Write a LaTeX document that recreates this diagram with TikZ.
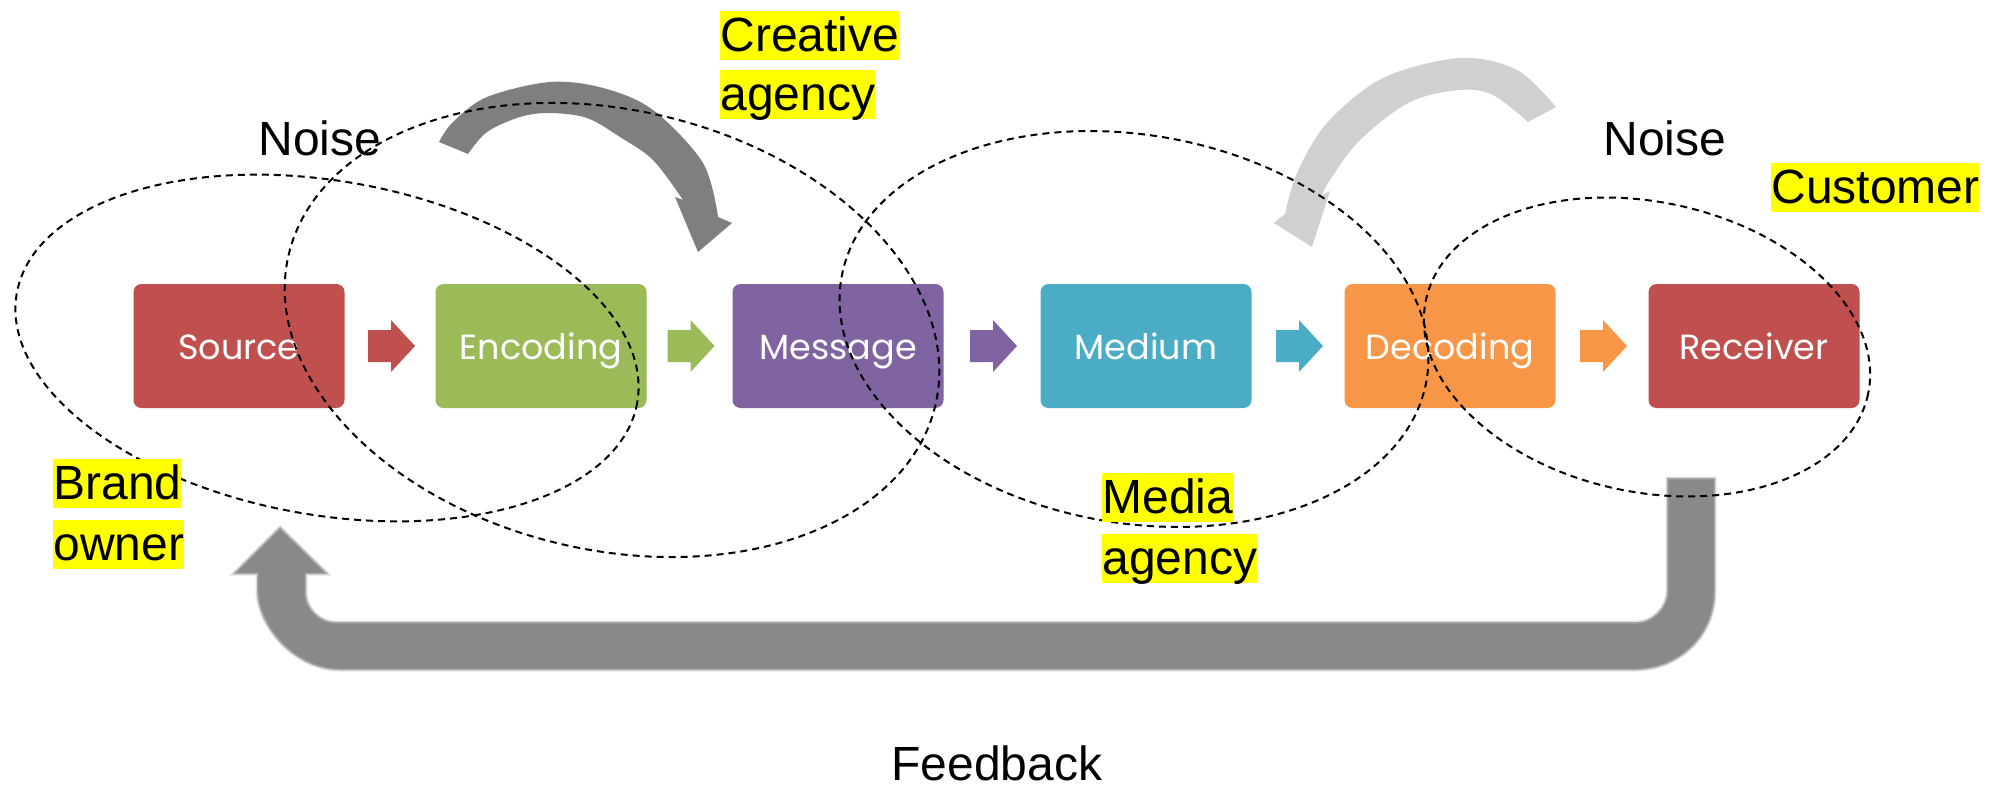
\documentclass[tikz,border=0pt]{standalone}
\usepackage{fontspec}
\setmainfont{Liberation Sans}
\newfontfamily\boxfont{Poppins}
\usetikzlibrary{calc}
\definecolor{srcred}{HTML}{C0504D}
\definecolor{encgreen}{HTML}{9BBB59}
\definecolor{msgpurple}{HTML}{8064A2}
\definecolor{medblue}{HTML}{4BACC6}
\definecolor{decorange}{HTML}{F79646}
\definecolor{darkarrow}{HTML}{7F7F7F}
\definecolor{lightarrow}{HTML}{D0D0D0}
\definecolor{feedgray}{HTML}{898989}
\definecolor{hilite}{HTML}{FFFF00}

\begin{document}
\begin{tikzpicture}[x=0.5pt, y=-0.5pt,
  stage/.style={fill=#1, rounded corners=4pt, minimum width=105.5pt,
    minimum height=62pt, inner sep=0pt, text=white,
    font=\boxfont\fontsize{17.5}{17.5}\selectfont, text height=13pt, text depth=0pt},
  zone/.style={draw=black, line width=1pt, dash pattern=on 3.5pt off 2.5pt},
  tag/.style={fill=hilite, inner sep=0pt, text height=20pt, text depth=4.5pt,
    anchor=base west, font=\fontsize{24}{24}\selectfont},
  caption/.style={anchor=base west, inner sep=0pt, font=\fontsize{24}{24}\selectfont}
]
\useasboundingbox (0,0) rectangle (1995,787);

% communication chain
\node[stage=srcred]    (src) at (239,346)  {Source};
\node[stage=encgreen]  (enc) at (541,346)  {Encoding};
\node[stage=msgpurple] (msg) at (838,346)  {Message};
\node[stage=medblue]   (med) at (1146,346) {Medium};
\node[stage=decorange] (dec) at (1450,346) {Decoding};
\node[stage=srcred]    (rec) at (1754,346) {Receiver};

% block arrows between the stages
\foreach \a/\b/\c in {src/enc/srcred, enc/msg/encgreen, msg/med/msgpurple,
                      med/dec/medblue, dec/rec/decorange}
  \fill[\c] ($(\a.east)!0.5!(\b.west)$) ++(-22,-16) -- ++(23,0) -- ++(0,-10)
    -- ++(24,26) -- ++(-24,26) -- ++(0,-10) -- ++(-23,0) -- cycle;

% feedback loop from receiver back to source
\coordinate (fbtop) at (1691,478);
\coordinate (fbtip) at (280,527);
\fill[feedgray, draw=feedgray!55, draw opacity=0.5, line width=1.5pt]
  (1715,478) -- (1715,592) .. controls (1715,636) and (1679,670) .. (1635,670)
  -- (340,670) .. controls (294,670) and (257,626) .. (257,590)
  -- (257,574) -- (233,574) -- (fbtip) -- (328,574) -- (306,574)
  -- (306,592) .. controls (306,608.5) and (319.5,622) .. (336,622)
  -- (1637,622) .. controls (1653.5,622) and (1667,605.5) .. (1667,592)
  -- (1667,478) -- cycle;

% curved arrow above encoding
\fill[darkarrow]
  plot[smooth, tension=0.55] coordinates {(439,142) (453,122) (487,97) (550,82)
    (603,88) (653,110) (703,163) (718,217)}
  -- (732,223) -- (698,252) -- (675,197) -- (683,200)
  -- plot[smooth, tension=0.55] coordinates {(683,200) (653,160) (620,137)
    (587,118) (550,113) (520,117) (487,132) (468,154)} -- cycle;

% curved arrow above decoding
\fill[lightarrow]
  plot[smooth, tension=0.55] coordinates {(1556,107) (1517,70) (1460,58)
    (1383,78) (1327,123) (1297,173) (1285,214)}
  -- (1274,223) -- (1312,247) -- (1330,191) -- (1322,195)
  -- plot[smooth, tension=0.55] coordinates {(1322,195) (1330,180) (1360,140)
    (1410,102) (1460,90) (1493,95) (1528,122)} -- cycle;

% dashed zones
\draw[zone, rotate around={-10:(327,348)}] (327,348) ellipse [x radius=315, y radius=167];
\draw[zone, rotate around={-13:(612,330)}] (612,330) ellipse [x radius=332, y radius=220];
\draw[zone, rotate around={-10:(1134,329)}] (1134,329) ellipse [x radius=297, y radius=194];
\draw[zone, rotate around={-12:(1647,347)}] (1647,347) ellipse [x radius=226, y radius=145];

% labels
\node[caption] (noiseL) at (258,155)  {Noise};
\node[caption] (noiseR) at (1603,155) {Noise};
\node[caption] (feedback) at (891,780) {Feedback};
\node[tag] (creative) at (720,51)   {Creative\ };
\node[tag] (cragency) at (720,110)  {agency};
\node[tag] (customer) at (1771,203) {Customer};
\node[tag] (brand)    at (53,499)   {Brand\ };
\node[tag] (owner)    at (53,560)   {owner};
\node[tag] (media)    at (1102,513) {Media\ };
\node[tag] (mdagency) at (1102,574) {agency};
\end{tikzpicture}
\end{document}
